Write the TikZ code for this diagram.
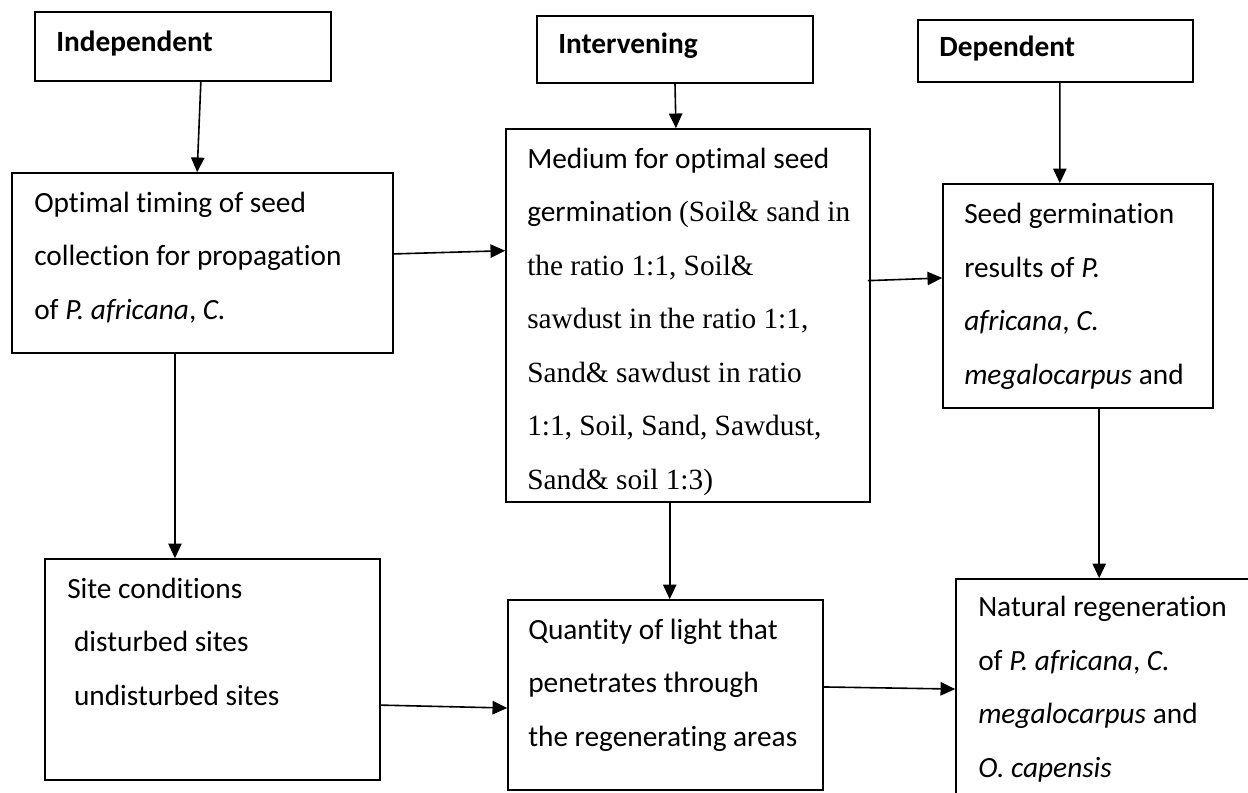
\documentclass[tikz,border=0pt]{standalone}
\usepackage{fontspec}
\setmainfont{Carlito}[Ligatures=NoCommon]
\newfontfamily\tms{Liberation Serif}[Ligatures=NoCommon]
\usetikzlibrary{arrows.meta,calc,fit}
\begin{document}
\begin{tikzpicture}[x=0.75pt,y=-0.75pt,
  box/.style={draw, line width=1.2pt, inner sep=0pt, rectangle},
  txt/.style={anchor=base west, inner sep=0pt, align=left, font=\fontsize{22}{40.1}\selectfont},
  hdr/.style={anchor=base west, inner sep=0pt, font=\fontsize{22}{26}\selectfont\bfseries},
  arr/.style={line width=1.2pt, -{Triangle[length=11pt,width=10pt]}}]
\useasboundingbox (0,0) rectangle (1248,792);
\clip (0,0) rectangle (1248,792);
% boxes
\node[box, fit={(35,12) (331,81)}] (ind) {};
\node[box, fit={(537,16) (813,83)}] (inter) {};
\node[box, fit={(918,20) (1193,82)}] (dep) {};
\node[box, fit={(12,173) (393,353)}] (opt) {};
\node[box, fit={(506,129) (870,502)}] (med) {};
\node[box, fit={(943,184) (1213,408)}] (seed) {};
\node[box, fit={(45,559) (380,780)}] (site) {};
\node[box, fit={(508,600) (823,790)}] (quan) {};
\node[box, fit={(956,579) (1256,800)}] (nat) {};
% texts (anchored at the baseline of the last line)
\node[hdr] (indt) at (56,51) {Independent};
\node[hdr] (intert) at (558,54) {Intervening};
\node[hdr] (dept) at (939,57) {Dependent};
\node[txt] (optt) at (34,319) {Optimal timing of seed\\collection for propagation\\of \textit{P. africana}, \textit{C.}};
\node[txt] (medt) at (527,489) {Medium for optimal seed\\germination {\tms(Soil\& sand in}\\{\tms the ratio 1:1, Soil\&}\\{\tms sawdust in the ratio 1:1,}\\{\tms Sand\& sawdust in ratio}\\{\tms 1:1, Soil, Sand, Sawdust,}\\{\tms Sand\& soil 1:3)}};
\node[txt] (seedt) at (964,384) {Seed germination\\results of \textit{P.}\\\textit{africana}, \textit{C.}\\\textit{megalocarpus} and};
\node[txt] (sitet) at (67,705) {Site conditions\\\hspace*{0.23em}disturbed sites\\\hspace*{0.23em}undisturbed sites};
\node[txt] (quant) at (528,746) {Quantity of light that\\penetrates through\\the regenerating areas};
\node[txt] (natt) at (978,777) {Natural regeneration\\of \textit{P. africana}, \textit{C.}\\\textit{megalocarpus} and\\\textit{O. capensis}};
% connectors
\draw[arr] ($(ind.south west)!0.56!(ind.south east)$) -- ($(opt.north west)!0.486!(opt.north east)$);
\draw[arr] ($(inter.south west)!0.5!(inter.south east)$) -- ($(med.north west)!0.467!(med.north east)$);
\draw[arr] ($(dep.south west)!0.516!(dep.south east)$) -- ($(seed.north west)!0.433!(seed.north east)$);
\draw[arr] ($(opt.north east)!0.45!(opt.south east)$) -- ($(med.north west)!0.327!(med.south west)$);
\draw[arr] ($(med.north east)!0.407!(med.south east)+(-3,0)$) -- ($(seed.north west)!0.42!(seed.south west)$);
\coordinate (c1) at ($(opt.south west)!0.428!(opt.south east)$);
\draw[arr] (c1) -- (c1 |- site.north);
\coordinate (c2) at ($(med.south west)!0.45!(med.south east)$);
\draw[arr] (c2) -- (c2 |- quan.north);
\coordinate (c3) at ($(seed.south west)!0.578!(seed.south east)$);
\draw[arr] (c3) -- (c3 |- nat.north);
\draw[arr] ($(site.north east)!0.66!(site.south east)$) -- ($(quan.north west)!0.568!(quan.south west)$);
\draw[arr] ($(quan.north east)!0.458!(quan.south east)$) -- ($(nat.north west)!0.498!(nat.south west)$);
\end{tikzpicture}
\end{document}
